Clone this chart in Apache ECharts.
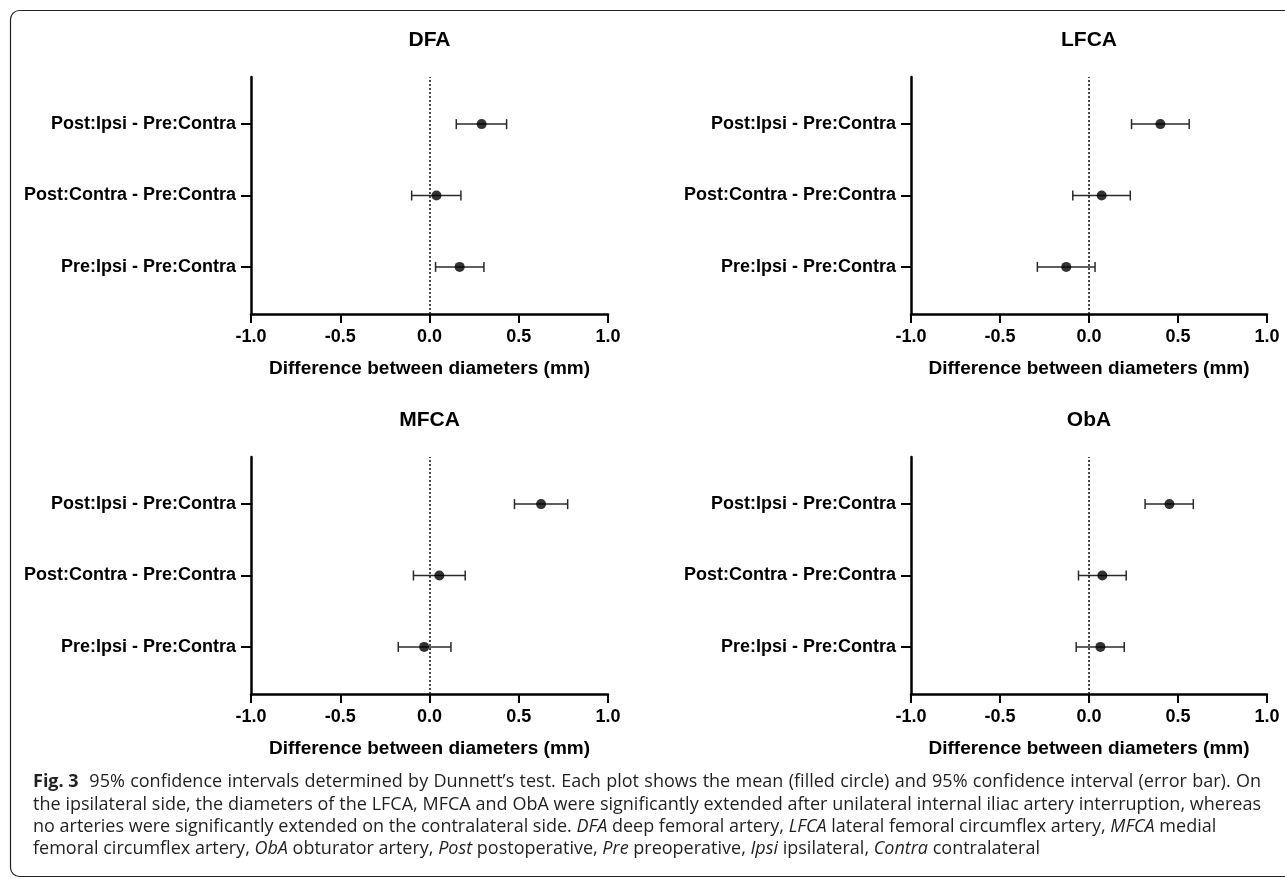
<!DOCTYPE html>
<html>
<head>
<meta charset="utf-8">
<title>Dunnett 95% CI</title>
<script src="https://cdn.jsdelivr.net/npm/echarts@6/dist/echarts.min.js"></script>
<style>
  html, body { margin: 0; padding: 0; background: #fff; }
  #chart { width: 1285px; height: 879px; }
</style>
</head>
<body>
<div id="chart"></div>
<script>
// categories listed bottom -> top
const categories = ['Pre:Ipsi - Pre:Contra', 'Post:Contra - Pre:Contra', 'Post:Ipsi - Pre:Contra'];
const panelTitles = ['DFA', 'LFCA', 'MFCA', 'ObA'];
const xTicks = [-1.0, -0.5, 0.0, 0.5, 1.0];
const xTitle = 'Difference between diameters (mm)';

const dfaMean = [0.169, 0.039, 0.292];
const dfaLow = [0.034, -0.100, 0.150];
const dfaHigh = [0.305, 0.176, 0.432];

const lfcaMean = [-0.128, 0.071, 0.401];
const lfcaLow = [-0.290, -0.091, 0.239];
const lfcaHigh = [0.034, 0.232, 0.563];

const mfcaMean = [-0.030, 0.055, 0.625];
const mfcaLow = [-0.175, -0.090, 0.476];
const mfcaHigh = [0.120, 0.200, 0.774];

const obaMean = [0.064, 0.075, 0.452];
const obaLow = [-0.072, -0.059, 0.315];
const obaHigh = [0.198, 0.209, 0.586];

// caption, one array per printed line: [style, text] ('' plain, 'b' bold, 'i' italic)
const captionLines = [
  [['b', 'Fig. 3'], ['', '  95% confidence intervals determined by Dunnett’s test. Each plot shows the mean (filled circle) and 95% confidence interval (error bar). On']],
  [['', 'the ipsilateral side, the diameters of the LFCA, MFCA and ObA were significantly extended after unilateral internal iliac artery interruption, whereas']],
  [['', 'no arteries were significantly extended on the contralateral side. '], ['i', 'DFA'], ['', ' deep femoral artery, '], ['i', 'LFCA'],
   ['', ' lateral femoral circumflex artery, '], ['i', 'MFCA'], ['', ' medial']],
  [['', 'femoral circumflex artery, '], ['i', 'ObA'], ['', ' obturator artery, '], ['i', 'Post'], ['', ' postoperative, '], ['i', 'Pre'],
   ['', ' preoperative, '], ['i', 'Ipsi'], ['', ' ipsilateral, '], ['i', 'Contra'], ['', ' contralateral']]
];

const panels = [
  { mean: dfaMean, low: dfaLow, high: dfaHigh },
  { mean: lfcaMean, low: lfcaLow, high: lfcaHigh },
  { mean: mfcaMean, low: mfcaLow, high: mfcaHigh },
  { mean: obaMean, low: obaLow, high: obaHigh }
];

const FONT = "'Liberation Sans', Arial, sans-serif";
const CAP_FONT = "'Open Sans', 'Noto Sans', sans-serif";
const CAP_SIZE = 18;
const CAP_LEFT = 33;
const CAP_RIGHT = 1261;
const gridBoxes = [
  { left: 251, top: 77, width: 357, height: 237 },
  { left: 911, top: 77, width: 356, height: 237 },
  { left: 251, top: 457, width: 357, height: 237 },
  { left: 911, top: 457, width: 356, height: 237 }
];
const catPos = categories.map((c, i) => i + 1);

// measure caption pieces so the full lines can be justified like the printed text
const measureCtx = document.createElement('canvas').getContext('2d');
function capWidth(str, st) {
  const weight = st === 'b' ? 'bold' : 'normal';
  const style = st === 'i' ? 'italic' : 'normal';
  measureCtx.font = style + ' ' + weight + ' ' + CAP_SIZE + 'px ' + CAP_FONT;
  return measureCtx.measureText(str).width;
}

function buildCaptionLine(segs, justify, idx) {
  let natural = 0;
  let spaces = 0;
  segs.forEach(([st, txt]) => {
    natural += capWidth(txt, st);
    if (st === '') spaces += (txt.match(/ /g) || []).length;
  });
  const spaceW = capWidth(' ', '');
  const extra = justify && spaces ? (CAP_RIGHT - CAP_LEFT - natural) / spaces : 0;
  const text = segs.map(([st, txt]) => {
    if (st === '') return justify ? txt.split(' ').join('{s| }') : txt;
    return '{' + st + '|' + txt + '}';
  }).join('');
  const base = { fontSize: CAP_SIZE, fill: '#231f20', fontFamily: CAP_FONT };
  return {
    type: 'text',
    silent: true,
    x: CAP_LEFT,
    y: 782 + idx * 22.4,
    style: {
      text: text,
      fontFamily: CAP_FONT,
      fontSize: CAP_SIZE,
      fill: '#231f20',
      verticalAlign: 'middle',
      rich: {
        b: Object.assign({ fontWeight: 'bold' }, base),
        i: Object.assign({ fontStyle: 'italic' }, base),
        s: Object.assign({ width: spaceW + extra }, base)
      }
    }
  };
}

const chart = echarts.init(document.getElementById('chart'));

const option = {
  animation: false,
  backgroundColor: '#fff',
  title: panelTitles.map((t, i) => ({
    text: t,
    left: gridBoxes[i].left + gridBoxes[i].width / 2,
    top: gridBoxes[i].top - 47,
    textAlign: 'center',
    padding: 0,
    textStyle: { fontSize: 21, fontWeight: 'bold', color: '#000', fontFamily: FONT }
  })),
  grid: gridBoxes.map(g => Object.assign({ containLabel: false }, g)),
  xAxis: gridBoxes.map((g, i) => ({
    type: 'value',
    gridIndex: i,
    min: xTicks[0],
    max: xTicks[xTicks.length - 1],
    interval: 0.5,
    name: xTitle,
    nameLocation: 'middle',
    nameGap: 45,
    nameTextStyle: { fontSize: 19, fontWeight: 'bold', color: '#000', fontFamily: FONT },
    axisLine: { show: true, onZero: false, lineStyle: { color: '#000', width: 2.5 } },
    axisTick: { show: true, length: 9, lineStyle: { color: '#000', width: 2 } },
    axisLabel: {
      margin: 14,
      fontSize: 18,
      fontWeight: 'bold',
      color: '#000',
      fontFamily: FONT,
      formatter: v => v.toFixed(1)
    },
    splitLine: { show: false }
  })),
  yAxis: gridBoxes.map((g, i) => ({
    type: 'value',
    gridIndex: i,
    min: 0.34,
    max: 3.66,
    axisLine: { show: true, onZero: false, lineStyle: { color: '#000', width: 2.5 } },
    axisTick: { show: true, length: 10, customValues: catPos, lineStyle: { color: '#000', width: 2 } },
    axisLabel: {
      customValues: catPos,
      margin: 15,
      fontSize: 18,
      fontWeight: 'bold',
      color: '#000',
      fontFamily: FONT,
      formatter: v => categories[Math.round(v) - 1] || ''
    },
    splitLine: { show: false }
  })),
  series: []
};

panels.forEach((p, i) => {
  // error bars: horizontal whisker with end caps
  option.series.push({
    type: 'custom',
    xAxisIndex: i,
    yAxisIndex: i,
    silent: true,
    data: catPos.map((y, k) => [p.low[k], p.high[k], y]),
    renderItem: (params, api) => {
      const a = api.coord([api.value(0), api.value(2)]);
      const b = api.coord([api.value(1), api.value(2)]);
      const cap = 5;
      const st = { stroke: '#2a2a2a', lineWidth: 1.5 };
      return {
        type: 'group',
        children: [
          { type: 'line', shape: { x1: a[0], y1: a[1], x2: b[0], y2: b[1] }, style: st },
          { type: 'line', shape: { x1: a[0], y1: a[1] - cap, x2: a[0], y2: a[1] + cap }, style: st },
          { type: 'line', shape: { x1: b[0], y1: b[1] - cap, x2: b[0], y2: b[1] + cap }, style: st }
        ]
      };
    },
    z: 3
  });
  option.series.push({
    type: 'scatter',
    xAxisIndex: i,
    yAxisIndex: i,
    silent: true,
    symbol: 'circle',
    symbolSize: 10,
    itemStyle: { color: '#000' },
    data: catPos.map((y, k) => [p.mean[k], y]),
    z: 4,
    markLine: {
      silent: true,
      symbol: ['none', 'none'],
      label: { show: false },
      lineStyle: { color: '#111', width: 1.5, type: [2, 2] },
      data: [{ xAxis: 0 }]
    }
  });
});

option.graphic = [
  {
    type: 'rect',
    silent: true,
    z: -1,
    shape: { x: 10.5, y: 10.5, width: 1300, height: 866, r: 9 },
    style: { fill: 'none', stroke: '#222', lineWidth: 1.2 }
  }
].concat(captionLines.map((segs, i) => buildCaptionLine(segs, i < 2, i)));

chart.setOption(option);
</script>
</body>
</html>
